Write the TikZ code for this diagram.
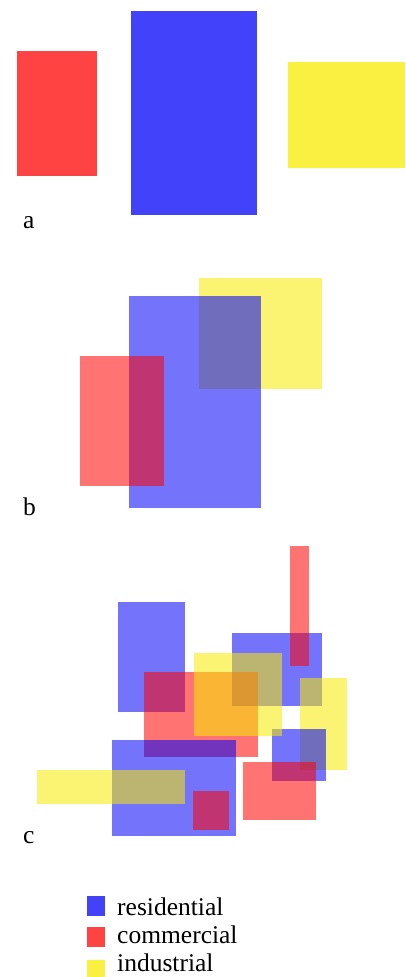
\documentclass[tikz,border=0pt]{standalone}
\usepackage{fontspec}
\setmainfont{Liberation Serif}

\definecolor{resblue}{RGB}{0,0,250}
\definecolor{comred}{RGB}{255,0,0}
\definecolor{indyellow}{RGB}{247,235,0}

\begin{document}
\begin{tikzpicture}[x=1pt, y=-1pt,
    res/.style={fill=resblue},
    com/.style={fill=comred},
    ind/.style={fill=indyellow},
    solid zone/.style={fill opacity=0.74},
    mixed zone/.style={fill opacity=0.55},
    panel label/.style={anchor=base west, inner sep=0pt, font=\fontsize{25.5}{30}\selectfont},
    key/.style={minimum width=18pt, minimum height=20pt, inner sep=0pt}]

    \useasboundingbox (0,0) rectangle (405,977);

    % a: separated
    \begin{scope}[solid zone]
        \fill[com] (17,51) rectangle (97,176);
        \fill[res] (131,11) rectangle (257,215);
        \fill[ind] (288,62) rectangle (405,168);
    \end{scope}
    \node[panel label] (lbla) at (23,228) {a};

    % b: overlapping
    \begin{scope}[mixed zone]
        \fill[ind] (199,278) rectangle (322,389);
        \fill[res] (129,296) rectangle (261,508);
        \fill[com] (80,356) rectangle (164,486);
    \end{scope}
    \node[panel label] (lblb) at (23,515) {b};

    % c: mixed
    \begin{scope}[mixed zone]
        \fill[res] (118,602) rectangle (185,712);
        \fill[res] (232,633) rectangle (322,706);
        \fill[com] (290,546) rectangle (309,666);
        \fill[com] (144,672) rectangle (258,757);
        \fill[ind] (300,678) rectangle (347,770);
        \fill[res] (272,729) rectangle (326,781);
        \fill[ind] (194,653) rectangle (282,736);
        \fill[com] (243,762) rectangle (316,820);
        \fill[res] (112,740) rectangle (236,836);
        \fill[ind] (37,770) rectangle (185,804);
        \fill[com] (193,791) rectangle (229,830);
    \end{scope}
    \node[panel label] (lblc) at (23,843) {c};

    % legend
    \begin{scope}[solid zone]
        \node[key, res] (keyres) at (96,905.5) {};
        \node[key, com] (keycom) at (96,937) {};
        \node[key, ind] (keyind) at (96,970) {};
    \end{scope}
    \node[panel label] (txtres) at (117,915) {residential};
    \node[panel label] (txtcom) at (117,943) {commercial};
    \node[panel label] (txtind) at (117,971.5) {industrial};

\end{tikzpicture}
\end{document}
